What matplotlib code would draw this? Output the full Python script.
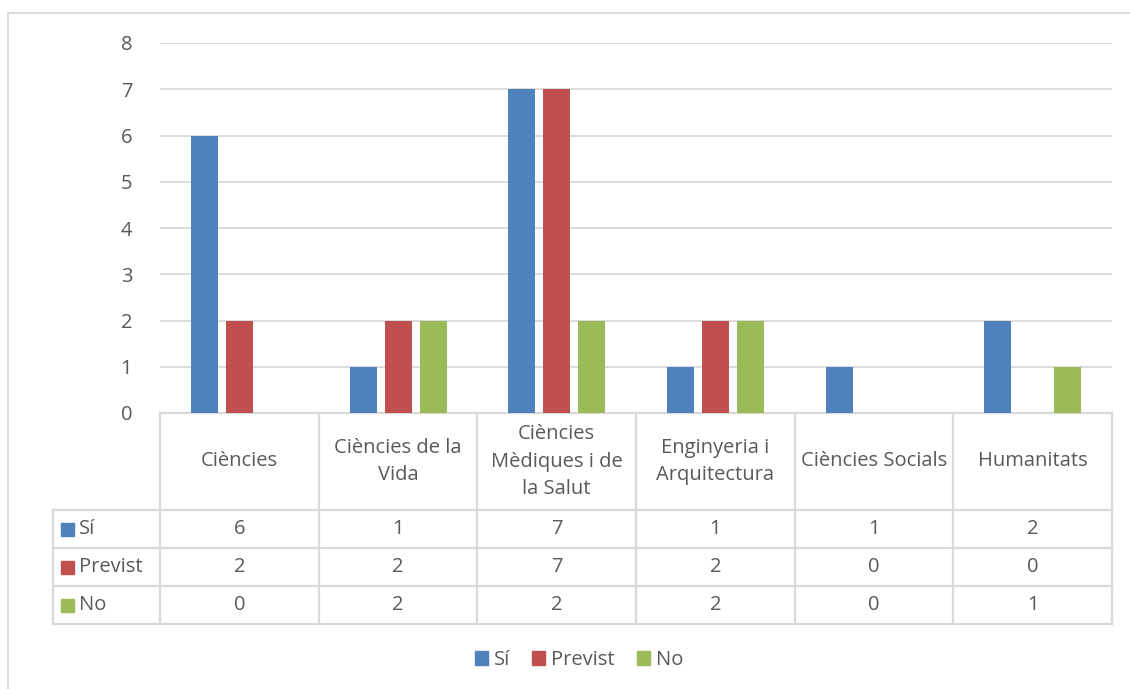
import numpy as np
import matplotlib.pyplot as plt
from matplotlib.patches import Patch, Rectangle
from matplotlib.lines import Line2D
import matplotlib.transforms as mtransforms

plt.rcParams['font.family'] = ['Open Sans', 'DejaVu Sans']

# data
categories = ['Ciències', 'Ciències de la\nVida', 'Ciències\nMèdiques i de\nla Salut',
              'Enginyeria i\nArquitectura', 'Ciències Socials', 'Humanitats']
series_names = ['Sí', 'Previst', 'No']
si = [6, 1, 7, 1, 1, 2]
previst = [2, 2, 7, 2, 0, 0]
no = [0, 2, 2, 2, 0, 1]
series = [si, previst, no]
colors = ['#4F81BD', '#C0504D', '#9BBB59']

W, H = 1130, 689
text_color = '#595959'
grid_color = '#D9D9D9'
fs = 14.5

fig = plt.figure(figsize=(W / 100, H / 100), dpi=100)

# plot area in pixels
px_l, px_r, px_t, px_b = 160, 1112, 43, 413
ax = fig.add_axes([px_l / W, 1 - px_b / H, (px_r - px_l) / W, (px_b - px_t) / H])

x = np.arange(len(categories))
unit_px = (px_r - px_l) / len(categories)
step = 35 / unit_px
bw = 27 / unit_px
for i, (vals, c) in enumerate(zip(series, colors)):
    ax.bar(x + (i - 1) * step, vals, width=bw, color=c, zorder=3)

ax.set_xlim(-0.5, len(categories) - 0.5)
ax.set_ylim(0, 8)
ax.set_yticks(range(0, 9))
ax.yaxis.grid(True, color=grid_color, linewidth=1.3, zorder=0)
ax.set_xticks([])
ax.tick_params(axis='y', length=0, labelsize=fs, labelcolor=text_color, pad=20)
for s in ax.spines.values():
    s.set_visible(False)

# data table below the axis
def ay(py):
    return (px_b - py) / (px_b - px_t)

tr = mtransforms.blended_transform_factory(ax.transData, ax.transAxes)
left_x = -0.5 - (px_l - 53) / unit_px
right_x = len(categories) - 0.5
row_y = [ay(413), ay(510), ay(548), ay(586), ay(624)]
lc = '#D9D9D9'
lw = 1.6

# horizontal lines
ax.add_line(Line2D([-0.5, right_x], [row_y[0]] * 2, transform=tr, color=lc, lw=lw, clip_on=False))
for yy in row_y[1:]:
    ax.add_line(Line2D([left_x, right_x], [yy] * 2, transform=tr, color=lc, lw=lw, clip_on=False))
# vertical lines
ax.add_line(Line2D([left_x, left_x], [row_y[1], row_y[-1]], transform=tr, color=lc, lw=lw, clip_on=False))
for k in range(len(categories) + 1):
    xx = k - 0.5
    ax.add_line(Line2D([xx, xx], [row_y[0], row_y[-1]], transform=tr, color=lc, lw=lw, clip_on=False))

# header text
for k, cat in enumerate(categories):
    ax.text(k, (row_y[0] + row_y[1]) / 2, cat, transform=tr, ha='center', va='center',
            fontsize=fs, color=text_color, linespacing=1.48, clip_on=False)

# rows
sq = 13
for r, (name, vals, c) in enumerate(zip(series_names, series, colors)):
    yc = (row_y[r + 1] + row_y[r + 2]) / 2
    sq_h = sq / (px_b - px_t)
    ax.add_patch(Rectangle((left_x + 8 / unit_px, yc - sq_h / 2), sq / unit_px, sq_h, transform=tr,
                           color=c, clip_on=False))
    ax.text(left_x + 26 / unit_px, yc, name, transform=tr, ha='left', va='center',
            fontsize=fs, color=text_color, clip_on=False)
    for k, v in enumerate(vals):
        ax.text(k, yc, str(v), transform=tr, ha='center', va='center',
                fontsize=fs, color=text_color, clip_on=False)

# legend
handles = [Patch(color=c, label=n) for c, n in zip(colors, series_names)]
leg = fig.legend(handles=handles, loc='center', bbox_to_anchor=(579 / W, 1 - 660 / H),
                 ncol=3, frameon=False, fontsize=fs, handlelength=0.65, handleheight=0.65,
                 handletextpad=0.3, columnspacing=1.1)
for t in leg.get_texts():
    t.set_color(text_color)

# chart border (only top and left visible)
fig.add_artist(Line2D([8 / W, 1], [1 - 13 / H] * 2, transform=fig.transFigure, color=lc, lw=1.3))
fig.add_artist(Line2D([8 / W] * 2, [0, 1 - 13 / H], transform=fig.transFigure, color=lc, lw=1.3))

fig.savefig('out.png', dpi=100)
